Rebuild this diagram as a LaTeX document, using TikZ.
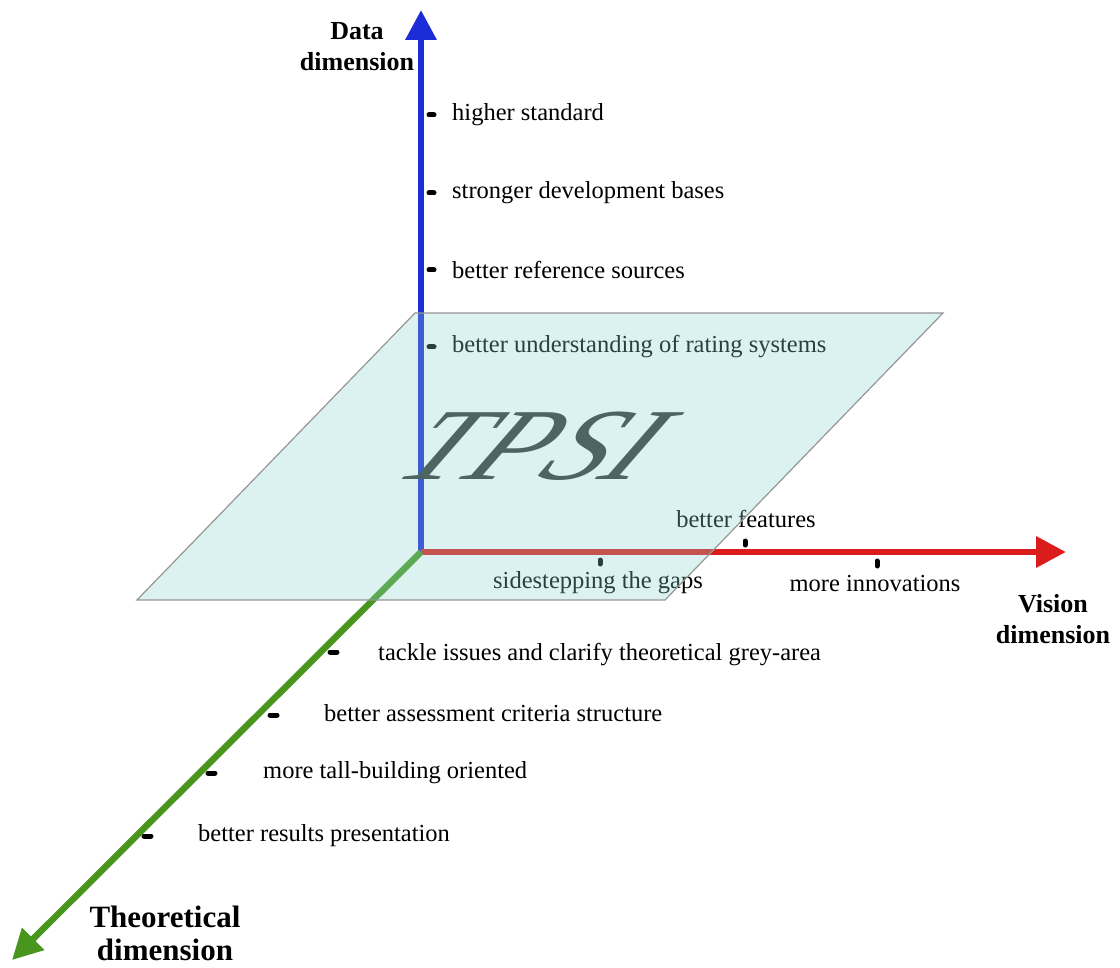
\documentclass[tikz,border=0pt]{standalone}
\usepackage{fontspec}
\setmainfont{Liberation Serif}
\usetikzlibrary{arrows.meta}
\definecolor{axisblue}{RGB}{28,44,214}
\definecolor{axisred}{RGB}{218,28,28}
\definecolor{axisgreen}{RGB}{72,150,30}
\definecolor{planefill}{RGB}{140,212,206}
\definecolor{planeedge}{RGB}{150,150,150}
\definecolor{logogray}{RGB}{50,52,52}
\begin{document}
\begin{tikzpicture}[x=1pt,y=-1pt,
  axis/.style={line width=6.5pt, -{Triangle[length=30pt,width=30pt]}},
  tickmark/.style={line width=5pt, line cap=round, black},
  lbl/.style={font=\fontsize{24.5}{28}\selectfont, inner sep=0pt},
  ttl/.style={font=\fontsize{26}{31}\selectfont\bfseries, align=center, inner sep=0pt},
  plane/.style={fill=planefill, fill opacity=0.3, draw=planeedge, line width=1.2pt}]
\useasboundingbox (0,0) rectangle (1120,968);

% axes
\coordinate (O) at (421,552);
\coordinate (dtip) at (421,10);
\coordinate (vtip) at (1066,552);
\coordinate (ttip) at (12,960);
\draw[axis, axisblue] (O) -- (dtip);
\draw[axis, axisred] (O) -- (vtip);
\draw[axis, axisgreen] (O) -- (ttip);

% axis titles
\node[ttl] (dtitle) at (357,47) {Data\\dimension};
\node[ttl] (vtitle) at (1053,619) {Vision\\dimension};
\node[ttl, font=\fontsize{31}{33}\selectfont\bfseries] (ttitle) at (165,933) {Theoretical\\dimension};

% data dimension items
\draw[tickmark] (429,115) -- (434,115);
\draw[tickmark] (429,193) -- (434,193);
\draw[tickmark] (429,270) -- (434,270);
\draw[tickmark] (429,347) -- (434,347);
\node[lbl, anchor=west] (d1) at (452,115) {higher standard};
\node[lbl, anchor=west] (d2) at (452,193) {stronger development bases};
\node[lbl, anchor=west] (d3) at (452,270) {better reference sources};
\node[lbl, anchor=west] (d4) at (452,347) {better understanding of rating systems};

% vision dimension items
\draw[tickmark] (745,541) -- (745,545);
\draw[tickmark] (600,560) -- (600,564);
\draw[tickmark] (877,561) -- (877,566);
\node[lbl] (v1) at (746,519) {better features};
\node[lbl] (v2) at (598,583) {sidestepping the gaps};
\node[lbl] (v3) at (875,584) {more innovations};

% theoretical dimension items
\draw[tickmark] (330,652) -- (337,652);
\draw[tickmark] (270,715) -- (277,715);
\draw[tickmark] (208,773) -- (215,773);
\draw[tickmark] (144,836) -- (151,836);
\node[lbl, anchor=west] (t1) at (378,655) {tackle issues and clarify theoretical grey-area};
\node[lbl, anchor=west] (t2) at (324,713) {better assessment criteria structure};
\node[lbl, anchor=west] (t3) at (263,773) {more tall-building oriented};
\node[lbl, anchor=west] (t4) at (198,836) {better results presentation};

% central label
\node[font=\fontsize{102}{106}\selectfont\itshape, text=logogray, xscale=1.2, xslant=0.55, transform shape, inner sep=0pt] (tpsi) at (536,446) {TPSI};

% translucent plane laid over everything
\draw[plane] (415,313) -- (943,313) -- (665,600) -- (137,600) -- cycle;
\end{tikzpicture}
\end{document}
